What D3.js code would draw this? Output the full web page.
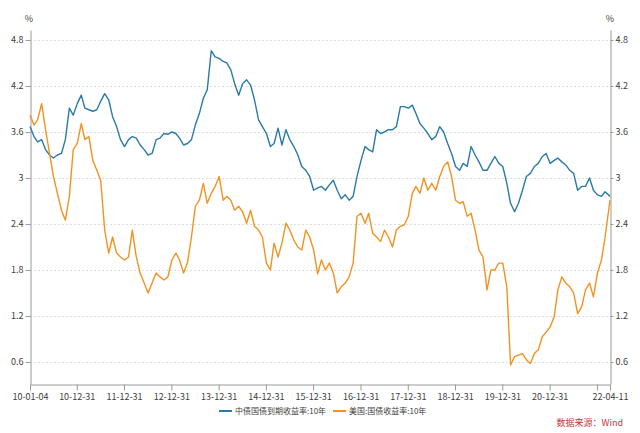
<!DOCTYPE html>
<html lang="zh">
<head>
<meta charset="utf-8">
<title>中美10年期国债收益率</title>
<script src="https://cdn.jsdelivr.net/npm/d3@7"></script>
<style>
body { margin: 0; background: #fff; }
text { font-family: "Noto Sans CJK SC", "Noto Sans", sans-serif; fill: #404040; }
.grid line { stroke: #dcdcdc; stroke-dasharray: 2,2; }
.axis path, .axis line { stroke: #9a9a9a; }
.line { fill: none; stroke-width: 1.4px; stroke-linejoin: round; }
</style>
</head>
<body>
<script>

// monthly readings, Jan 2010 .. Apr 2022 (last point is 2022-04-11)
var startDate = "2010-01-04",
    endDate = "2022-04-11";

var cnYield = [
  3.67,3.54,3.47,3.50,3.37,3.30,3.26,3.30,3.32,3.50,3.91,3.82,
  3.97,4.08,3.91,3.89,3.87,3.89,4.00,4.10,4.02,3.80,3.67,3.50,
  3.41,3.50,3.54,3.52,3.43,3.37,3.30,3.32,3.50,3.52,3.58,3.57,
  3.60,3.58,3.52,3.43,3.45,3.50,3.69,3.84,4.04,4.15,4.66,4.58,
  4.56,4.52,4.50,4.41,4.23,4.08,4.23,4.28,4.21,4.02,3.76,3.67,
  3.58,3.41,3.45,3.65,3.43,3.63,3.50,3.41,3.30,3.15,3.10,3.02,
  2.84,2.87,2.89,2.84,2.91,2.97,2.84,2.73,2.78,2.71,2.76,3.02,
  3.23,3.41,3.37,3.34,3.63,3.58,3.60,3.63,3.63,3.67,3.93,3.93,
  3.91,3.95,3.84,3.71,3.65,3.58,3.50,3.54,3.67,3.60,3.45,3.32,
  3.15,3.10,3.19,3.15,3.41,3.30,3.21,3.10,3.10,3.19,3.28,3.19,
  3.15,2.93,2.67,2.56,2.67,2.84,3.02,3.06,3.15,3.19,3.28,3.32,
  3.19,3.23,3.26,3.21,3.17,3.10,3.06,2.84,2.89,2.89,3.00,2.84,
  2.78,2.76,2.82,2.76
];

var usYield = [
  3.82,3.69,3.76,3.97,3.63,3.32,3.02,2.80,2.58,2.45,2.76,3.37,
  3.45,3.71,3.50,3.54,3.23,3.10,2.97,2.32,2.02,2.23,2.02,1.97,
  1.93,1.97,2.32,1.97,1.76,1.63,1.50,1.63,1.76,1.71,1.67,1.71,
  1.93,2.02,1.93,1.76,1.89,2.23,2.63,2.71,2.93,2.67,2.80,2.89,
  3.02,2.71,2.76,2.71,2.58,2.63,2.56,2.41,2.58,2.37,2.32,2.23,
  1.89,1.80,2.15,1.97,2.15,2.41,2.32,2.19,2.10,2.06,2.32,2.23,
  2.06,1.75,1.93,1.80,1.89,1.76,1.50,1.58,1.63,1.71,1.89,2.50,
  2.54,2.41,2.54,2.28,2.23,2.17,2.32,2.23,2.10,2.32,2.37,2.39,
  2.50,2.80,2.89,2.80,3.00,2.84,2.93,2.84,3.02,3.15,3.21,3.02,
  2.71,2.67,2.69,2.50,2.54,2.32,2.06,1.97,1.54,1.80,1.80,1.89,
  1.89,1.58,0.56,0.67,0.69,0.71,0.63,0.58,0.71,0.76,0.93,0.99,
  1.06,1.19,1.54,1.71,1.63,1.58,1.50,1.23,1.32,1.54,1.63,1.45,
  1.76,1.93,2.23,2.71
];

var yTicks = [0.6, 1.2, 1.8, 2.4, 3, 3.6, 4.2, 4.8];
var xTickDates = ["2010-01-04","2010-12-31","2011-12-31","2012-12-31","2013-12-31","2014-12-31",
                  "2015-12-31","2016-12-31","2017-12-31","2018-12-31","2019-12-31","2020-12-31",
                  "2021-12-31","2022-04-11"];
var xTickLabels = ["10-01-04","10-12-31","11-12-31","12-12-31","13-12-31","14-12-31",
                   "15-12-31","16-12-31","17-12-31","18-12-31","19-12-31","20-12-31",
                   "","22-04-11"];
var seriesNames = ["中债国债到期收益率:10年", "美国:国债收益率:10年"];
var seriesColors = ["#2a7aa8", "#f3931f"];

var width = 640, height = 433;
var plot = { left: 30, right: 610, top: 30, bottom: 384 };

var parseDate = d3.timeParse("%Y-%m-%d");
var t0 = parseDate(startDate), t1 = parseDate(endDate);

var dates = cnYield.map(function(v, i) {
  return i === cnYield.length - 1 ? t1 : d3.timeMonth.offset(t0, i);
});

var x = d3.scaleTime()
    .domain([t0, t1])
    .range([plot.left, plot.right]);

var y = d3.scaleLinear()
    .domain([0.313, 4.93])
    .range([plot.bottom, plot.top]);

var svg = d3.select("body").append("svg")
    .attr("width", width)
    .attr("height", height);

// grid
svg.append("g")
    .attr("class", "grid")
  .selectAll("line")
  .data(yTicks)
  .enter().append("line")
    .attr("x1", plot.left)
    .attr("x2", plot.right)
    .attr("y1", function(d) { return Math.round(y(d)) + 0.5; })
    .attr("y2", function(d) { return Math.round(y(d)) + 0.5; });

var fmtY = function(d) { return String(d); };

svg.append("g")
    .attr("class", "axis")
    .attr("transform", "translate(" + (plot.left + 0.5) + ",0)")
    .call(d3.axisLeft(y).tickValues(yTicks).tickFormat(fmtY).tickSize(5).tickPadding(2).tickSizeOuter(0));

svg.append("g")
    .attr("class", "axis")
    .attr("transform", "translate(" + (plot.right + 0.5) + ",0)")
    .call(d3.axisRight(y).tickValues(yTicks).tickFormat(fmtY).tickSize(3).tickPadding(2).tickSizeOuter(0));

svg.append("g")
    .attr("class", "axis")
    .attr("transform", "translate(0," + (plot.bottom + 0.5) + ")")
    .call(d3.axisBottom(x)
      .tickValues(xTickDates.map(parseDate))
      .tickFormat(function(d, i) { return xTickLabels[i]; })
      .tickSize(6).tickPadding(3).tickSizeOuter(0));

svg.selectAll(".axis text")
    .style("font-size", "9px")
    .style("fill", "#404040");

// % labels
[plot.left - 1, plot.right].forEach(function(px) {
  svg.append("text")
      .attr("x", px)
      .attr("y", 22)
      .attr("text-anchor", "middle")
      .style("font-size", "9px")
      .style("fill", "#404040")
      .text("%");
});

// lines
var line = d3.line()
    .x(function(d) { return x(d.date); })
    .y(function(d) { return y(d.value); });

[cnYield, usYield].forEach(function(vals, k) {
  var data = vals.map(function(v, i) { return { date: dates[i], value: v }; });
  svg.append("path")
      .datum(data)
      .attr("class", "line")
      .attr("stroke", seriesColors[k])
      .attr("d", line);
});

// legend
var legendX = [219, 333];
seriesNames.forEach(function(name, k) {
  var g = svg.append("g").attr("transform", "translate(" + legendX[k] + ",411)");
  g.append("line")
      .attr("x1", 0).attr("x2", 13)
      .attr("stroke", seriesColors[k])
      .attr("stroke-width", 2);
  g.append("text")
      .attr("x", 16)
      .attr("dy", "0.35em")
      .style("font-size", "8px")
      .style("fill", "#404040")
      .text(name);
});

// source
svg.append("text")
    .attr("x", 623)
    .attr("y", 426)
    .attr("text-anchor", "end")
    .style("font-size", "9px")
    .style("fill", "#c4373b")
    .text("数据来源：Wind");

</script>
</body>
</html>
